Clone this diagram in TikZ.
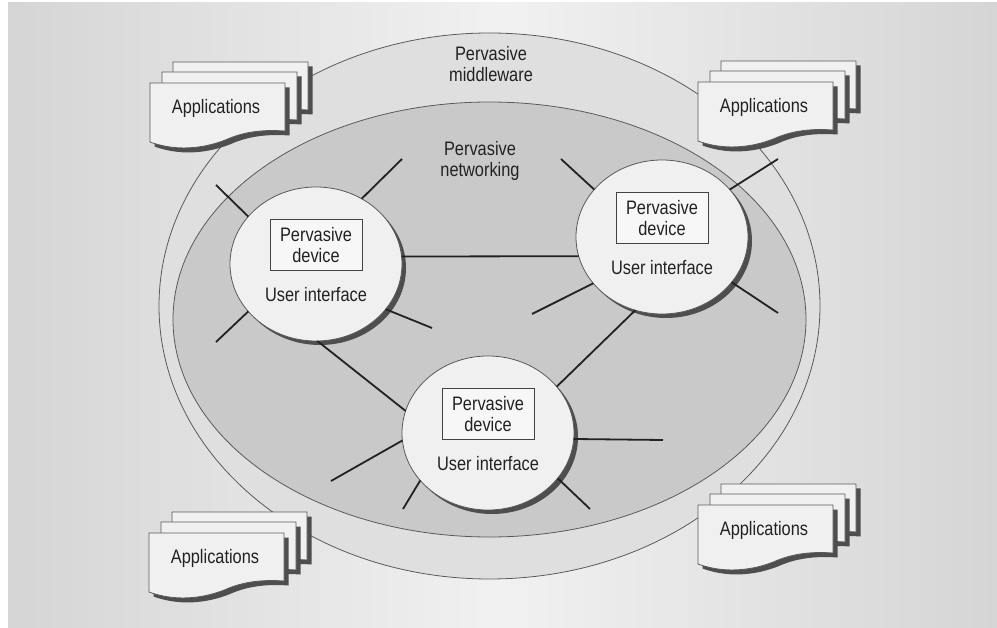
\documentclass[tikz,border=0pt]{standalone}
\usepackage{fontspec}
\setmainfont{Liberation Sans}[FakeStretch=0.84]
\usetikzlibrary{shapes.geometric,shadows}
\definecolor{bgedge}{HTML}{D5D5D5}
\definecolor{bgmid}{HTML}{F1F1F1}
\definecolor{ringfill}{HTML}{DFDFDF}
\definecolor{netfill}{HTML}{C9C9C9}
\definecolor{devfill}{HTML}{F0F0F0}
\definecolor{boxfill}{HTML}{F7F7F7}
\definecolor{edgec}{HTML}{5A5A5A}
\definecolor{ink}{HTML}{222222}
\definecolor{shadowc}{HTML}{4E4E4E}
\newcommand\docshape{(0,0) -- (135,0) -- (135,48) .. controls (120,47) and (100,47) .. (80,55) .. controls (60,64) and (30,70) .. (0,59) -- cycle}
\begin{document}
\begin{tikzpicture}[x=1pt,y=-1pt,
  every node/.style={text=ink, font=\fontsize{19.5}{21}\selectfont},
  ring/.style={fill=ringfill, draw=edgec, line width=0.8pt},
  net/.style={fill=netfill, draw=edgec, line width=0.8pt},
  device/.style={ellipse, fill=devfill, draw=edgec, line width=0.8pt,
    minimum width=172pt, minimum height=154pt, inner sep=0pt, outer sep=0pt,
    drop shadow={shadow xshift=4pt, shadow yshift=-4pt, fill=shadowc, opacity=1}},
  devbox/.style={rectangle, fill=boxfill, draw=ink!85, line width=0.8pt,
    minimum width=92pt, minimum height=51pt, inner sep=0pt, align=center},
  label/.style={align=center, inner sep=0pt},
  link/.style={draw=ink, line width=1.8pt},
  page/.style={fill=devfill, draw=edgec, line width=0.8pt},
  pageshadow/.style={fill=shadowc},
  appstack/.pic={
    \foreach \dx/\dy in {23/-21,12/-11,0/0}{
      \begin{scope}[shift={(\dx,\dy)}]
        \begin{scope}[shift={(4.5,4.5)}]
          \fill[pageshadow] \docshape;
        \end{scope}
        \filldraw[page] \docshape;
      \end{scope}
    }
  }
]
\useasboundingbox (0,0) rectangle (997,628);
\fill[white] (0,0) rectangle (997,628);
\shade[left color=bgedge, right color=bgedge, middle color=bgmid] (8,3) rectangle (997,628);

% ellipses
\draw[ring] (489.5,306) ellipse [x radius=330.5pt, y radius=273pt];
\draw[net] (489.5,319.5) ellipse [x radius=316.5pt, y radius=217.5pt];

\node[label] (mw) at (491,64) {Pervasive\\middleware};
\node[label] (nw) at (480,160.5) {Pervasive\\networking};

% devices
\node[device] (L) at (316,264) {};
\node[device] (R) at (662,237) {};
\node[device] (B) at (488,433) {};

\node[devbox] (Lbox) at (316,245) {Pervasive\\device};
\node[devbox] (Rbox) at (662,218) {Pervasive\\device};
\node[devbox] (Bbox) at (488,414) {Pervasive\\device};

\node[label] (Lui) at (316,295) {User interface};
\node[label] (Rui) at (662,268) {User interface};
\node[label] (Bui) at (488,464) {User interface};

% free ends
\coordinate (L1) at (216,185);
\coordinate (L2) at (402,159);
\coordinate (L3) at (432,328);
\coordinate (L4) at (216,342);
\coordinate (R1) at (561,159);
\coordinate (R2) at (778,159);
\coordinate (R3) at (532,314);
\coordinate (R4) at (778,313);
\coordinate (B1) at (663,440);
\coordinate (B2) at (590,509);
\coordinate (B3) at (403,509);
\coordinate (B4) at (331,481);

% links between devices
\draw[link] (L.5.3) -- (R.-167);
\draw[link] (L.-89) -- (B.165);
\draw[link] (R.-110) -- (B.34);

% stubs
\draw[link] (L.145) -- (L1);
\draw[link] (L.55) -- (L2);
\draw[link] (L.-33) -- (L3);
\draw[link] (L.-145) -- (L4);
\draw[link] (R.145) -- (R1);
\draw[link] (R.35) -- (R2);
\draw[link] (R.-146) -- (R3);
\draw[link] (R.-33) -- (R4);
\draw[link] (B.-4.6) -- (B1);
\draw[link] (B.-33) -- (B2);
\draw[link] (B.-145) -- (B3);
\draw[link] (B.-175) -- (B4);

% application stacks
\pic at (150,83) {appstack};
\pic at (698,82) {appstack};
\pic at (149,533) {appstack};
\pic at (698,505) {appstack};

\node[label] (app1) at (216,108) {Applications};
\node[label] (app2) at (764,107) {Applications};
\node[label] (app3) at (215,558) {Applications};
\node[label] (app4) at (764,530) {Applications};
\end{tikzpicture}
\end{document}
